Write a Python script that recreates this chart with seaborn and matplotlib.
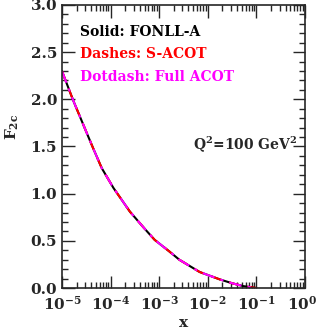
import numpy as np
import pandas as pd
import seaborn as sns
import matplotlib
matplotlib.use("Agg")
import matplotlib.pyplot as plt
import matplotlib.transforms as mtransforms
from matplotlib.ticker import LogLocator, MultipleLocator, NullFormatter, FormatStrFormatter

# F2c vs x at Q^2 = 100 GeV^2
x_vals = [1.0e-5, 1.7e-5, 3.2e-5, 4.4e-5, 6.6e-5, 1.15e-4, 2.5e-4, 5.0e-4,
          8.1e-4, 1.6e-3, 2.6e-3, 6.8e-3, 1.8e-2, 3.2e-2, 5.4e-2, 1.0e-1]
f2c_vals = [2.30, 1.99, 1.65, 1.48, 1.27, 1.06, 0.81, 0.63,
            0.51, 0.39, 0.30, 0.17, 0.09, 0.05, 0.02, 0.0]
schemes = ["FONLL-A", "S-ACOT", "Full ACOT"]
colors = ["black", "red", "magenta"]
styles = ["-", (0, (5, 4)), (0, (6, 3, 1.5, 3))]
x_ticks = [1e-5, 1e-4, 1e-3, 1e-2, 1e-1, 1e0]

df = pd.concat([pd.DataFrame({"x": x_vals, "F2c": f2c_vals, "scheme": s}) for s in schemes])

sns.set_style("ticks")
plt.rcParams["font.family"] = ["DejaVu Serif"]
plt.rcParams["font.weight"] = "bold"
plt.rcParams["mathtext.fontset"] = "dejavuserif"

fig = plt.figure(figsize=(3.16, 3.32), dpi=100)
ax = fig.add_axes([0.196, 0.1325, 0.769, 0.8525])

for s, c, ls in zip(schemes, colors, styles):
    sns.lineplot(data=df[df.scheme == s], x="x", y="F2c", color=c, linestyle=ls,
                 linewidth=1.5, ax=ax, legend=False)

ax.set_xscale("log")
ax.set_xlim(1e-5, 1)
ax.set_ylim(0, 3)
ax.set_xticks(x_ticks)
ax.xaxis.set_minor_locator(LogLocator(base=10, subs=np.arange(2, 10), numticks=10))
ax.xaxis.set_minor_formatter(NullFormatter())
ax.yaxis.set_major_locator(MultipleLocator(0.5))
ax.yaxis.set_minor_locator(MultipleLocator(0.1))
ax.yaxis.set_major_formatter(FormatStrFormatter("%.1f"))

ax.tick_params(which="both", direction="in", top=True, right=True, width=1.0,
               labelsize=11)
ax.tick_params(axis="x", which="major", pad=5)
ax.tick_params(which="major", length=9)
ax.tick_params(which="minor", length=4.5)
for sp in ax.spines.values():
    sp.set_linewidth(1.2)

ax.set_xlabel("x", fontsize=11, fontweight="bold", labelpad=2)
ax.set_ylabel(r"$\mathbf{F}_{\mathbf{2c}}$", fontsize=11)
ax.yaxis.set_label_coords(-0.17, 0.57)

# nudge the last x tick label (10^0) so it stays inside the figure
fig.canvas.draw()
last = ax.get_xticklabels()[len(x_ticks) - 1]
last.set_transform(last.get_transform() + mtransforms.ScaledTranslation(-3 / 100, 0, fig.dpi_scale_trans))

ax.text(0.074, 0.89, "Solid: FONLL-A", transform=ax.transAxes, color="black",
        fontsize=10, fontweight="bold")
ax.text(0.074, 0.813, "Dashes: S-ACOT", transform=ax.transAxes, color="red",
        fontsize=10, fontweight="bold")
ax.text(0.074, 0.73, "Dotdash: Full ACOT", transform=ax.transAxes, color="magenta",
        fontsize=10, fontweight="bold")
ax.text(0.967, 0.49, r"Q$^\mathbf{2}$=100 GeV$^\mathbf{2}$", transform=ax.transAxes,
        ha="right", fontsize=10, fontweight="bold")

fig.savefig("out.png", dpi=100)
